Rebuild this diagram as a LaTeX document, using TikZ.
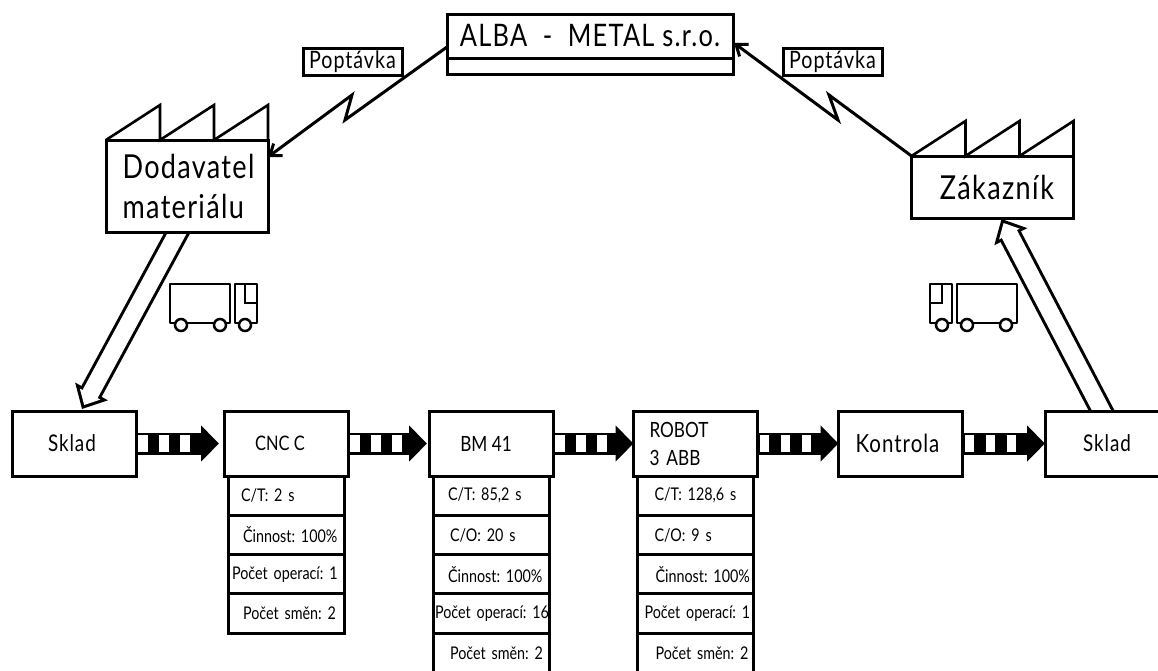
\documentclass[tikz,border=0pt]{standalone}
\usepackage{fontspec}
\usetikzlibrary{arrows.meta,positioning,calc,backgrounds}
\setmainfont[FakeStretch=0.82]{Lato}
\newfontfamily\spacedfont[FakeStretch=0.82,LetterSpace=4]{Lato}
\tikzset{
    processbox/.style={
        rectangle,
        draw=black,
        fill=white,
        line width=3pt,
        inner sep=0pt,
        outer sep=0pt,
        minimum width=124pt,
        minimum height=65pt,
        font=\fontsize{21}{28}\selectfont
    },
    factorybox/.style={
        rectangle,
        draw=black,
        fill=white,
        line width=3pt,
        inner sep=0pt,
        outer sep=0pt,
        minimum width=162pt,
        font=\spacedfont\fontsize{33}{40}\selectfont
    },
    statrow/.style={
        rectangle,
        draw=black,
        fill=white,
        line width=3pt,
        inner sep=0pt,
        outer sep=0pt,
        minimum width=116pt,
        text width=116pt,
        minimum height=39.3pt,
        align=left,
        font=\fontsize{17.5}{20}\selectfont
    },
    infolabel/.style={
        rectangle,
        draw=black,
        fill=white,
        line width=3pt,
        inner sep=0pt,
        outer sep=0pt,
        minimum width=99pt,
        minimum height=27pt,
        font=\spacedfont\fontsize{24}{26}\selectfont
    },
    infoline/.style={
        line width=3pt,
        -{Straight Barb[length=10pt,width=15pt]}
    },
    shipouter/.style={
        line width=23pt,
        -{Triangle[length=20pt,width=36pt]}
    },
    shipinner/.style={
        white,
        line width=17pt,
        shorten >=4.5pt,
        -{Triangle[length=12.5pt,width=22.5pt]}
    },
    pushshaft/.style={
        line width=22pt,
        -{Triangle[length=18pt,width=35pt]}
    },
    pushstripe/.style={
        white,
        line width=17pt,
        dash pattern=on 9.5pt off 11.5pt
    },
    roofline/.style={line width=2.6pt},
    lorry/.pic={
        \draw[line width=2.5pt, line join=round] (0,0) rectangle (60,39);
        \draw[line width=2.5pt, line join=round] (65,39) -- (65,0) -- (87,0) -- (87,39) -- cycle;
        \draw[line width=2.5pt] (75,0) -- (75,19) -- (87,19);
        \foreach \wheelx in {11,50,75}
            \draw[line width=2.5pt, fill=white] (\wheelx,41) circle[radius=6];
    }
}

\begin{document}
\frenchspacing
\begin{tikzpicture}[x=1pt,y=-1pt]
\useasboundingbox (0,0) rectangle (1158,670);
\clip (0,0) rectangle (1158,670);

% ALBA
\node[processbox, minimum width=286pt, minimum height=44pt, font=\spacedfont\fontsize{31}{34}\selectfont] (alba) at (590,36) {ALBA\ \ -\ \ METAL\ s.r.o.};
\node[processbox, minimum width=286pt, minimum height=16pt, below=0pt of alba] (alba-bar) {};

% Dodavatel and Zakaznik
\node[factorybox, minimum height=92pt, align=left] (dodavatel) at (187,186) {\hspace*{3pt}Dodavatel\\\hspace*{3pt}materiálu};
\node[factorybox, minimum height=62pt] (zakaznik) at (992.5,187) {\hspace*{9pt}Zákazník};
\draw[roofline] (dodavatel.north west) -- ++(54,-35) -- ++(0,35) -- ++(54,-35) -- ++(0,35) -- ++(54,-35) -- ++(0,35);
\draw[roofline] (zakaznik.north west) -- ++(54,-35) -- ++(0,35) -- ++(54,-35) -- ++(0,35) -- ++(54,-35) -- ++(0,35);

% Poptavka labels
\node[infolabel] (poptavka-in) at (352.5,62) {Poptávka};
\node[infolabel] (poptavka-out) at (832.5,61.5) {Poptávka};

% process row
\node[processbox, font=\spacedfont\fontsize{23}{28}\selectfont] (sklad-in) at (74,443.5) {\hspace*{-4pt}Sklad};
\node[processbox, font=\fontsize{20}{28}\selectfont] (cnc) at (286,443.5) {\hspace*{-12pt}CNC C};
\node[processbox] (bm) at (491,443.5) {\hspace*{-10pt}BM 41};
\node[processbox, text width=124pt, align=left] (robot) at (695.5,443.5) {\hspace*{16pt}ROBOT\\\hspace*{16pt}3 ABB};
\node[processbox, font=\spacedfont\fontsize{25}{28}\selectfont] (kontrola) at (900.5,443.5) {\hspace*{-6pt}Kontrola};
\node[processbox, font=\spacedfont\fontsize{23}{28}\selectfont] (sklad-out) at (1107,443.5) {Sklad};

% stats CNC
\node[statrow, below=0pt of cnc] (cnc-ct) {\hspace*{13pt}C/T: 2 s};
\node[statrow, below=0pt of cnc-ct] (cnc-act) {\hspace*{15pt}Činnost: 100\%};
\node[statrow, below=0pt of cnc-act] (cnc-ops) {\hspace*{4pt}Počet operací: 1};
\node[statrow, below=0pt of cnc-ops] (cnc-shift) {\hspace*{15pt}Počet směn: 2};

% stats BM
\node[statrow, below=0pt of bm] (bm-ct) {\hspace*{15pt}C/T: 85,2 s};
\node[statrow, below=0pt of bm-ct] (bm-co) {\hspace*{17pt}C/O: 20 s};
\node[statrow, below=0pt of bm-co] (bm-act) {\hspace*{15pt}Činnost: 100\%};
\node[statrow, below=0pt of bm-act] (bm-ops) {\hspace*{2pt}\mbox{Počet operací: 16}};
\node[statrow, below=0pt of bm-ops] (bm-shift) {\hspace*{17pt}Počet směn: 2};

% stats ROBOT
\node[statrow, below=0pt of robot] (robot-ct) {\hspace*{17pt}C/T: 128,6 s};
\node[statrow, below=0pt of robot-ct] (robot-co) {\hspace*{17pt}C/O: 9 s};
\node[statrow, below=0pt of robot-co] (robot-act) {\hspace*{18pt}Činnost: 100\%};
\node[statrow, below=0pt of robot-act] (robot-ops) {\hspace*{7pt}Počet operací: 1};
\node[statrow, below=0pt of robot-ops] (robot-shift) {\hspace*{18pt}Počet směn: 2};

% trucks
\pic at (170,284) {lorry};
\pic[xscale=-1] at (1017,284) {lorry};

% information flow
\draw[infoline, line join=miter] ($(alba-bar.north west)+(0,-11)$) -- (345,120) -- (352,95) -- ($(dodavatel.north east)+(0,17)$);
\draw[infoline, line join=miter] (zakaznik.north west) -- (829,95) -- (838,120) -- ($(alba-bar.north east)+(1,-15)$);

% material flow
\coordinate (ship-in-start) at ($(dodavatel.south)+(-6,-6)$);
\coordinate (ship-in-end) at ($(sklad-in.north)+(8,-2)$);
\coordinate (ship-out-start) at ($(sklad-out.north)+(-1,8)$);
\coordinate (ship-out-end) at ($(zakaznik.south)+(9,1)$);
\begin{scope}[on background layer]
\foreach \from/\to in {ship-in-start/ship-in-end, ship-out-start/ship-out-end}{
    \draw[shipouter] (\from) -- (\to);
    \draw[shipinner] (\from) -- (\to);
}
\end{scope}

% push arrows
\foreach \from/\to/\gap in {sklad-in/cnc/5, cnc/bm/2, bm/robot/0, robot/kontrola/0, kontrola/sklad-out/0}{
    \draw[pushshaft, shorten >=\gap pt] (\from.east) -- (\to.west);
    \draw[pushstripe] ($(\from.east)+(2,0)$) -- ++(53,0);
}
\end{tikzpicture}
\end{document}
